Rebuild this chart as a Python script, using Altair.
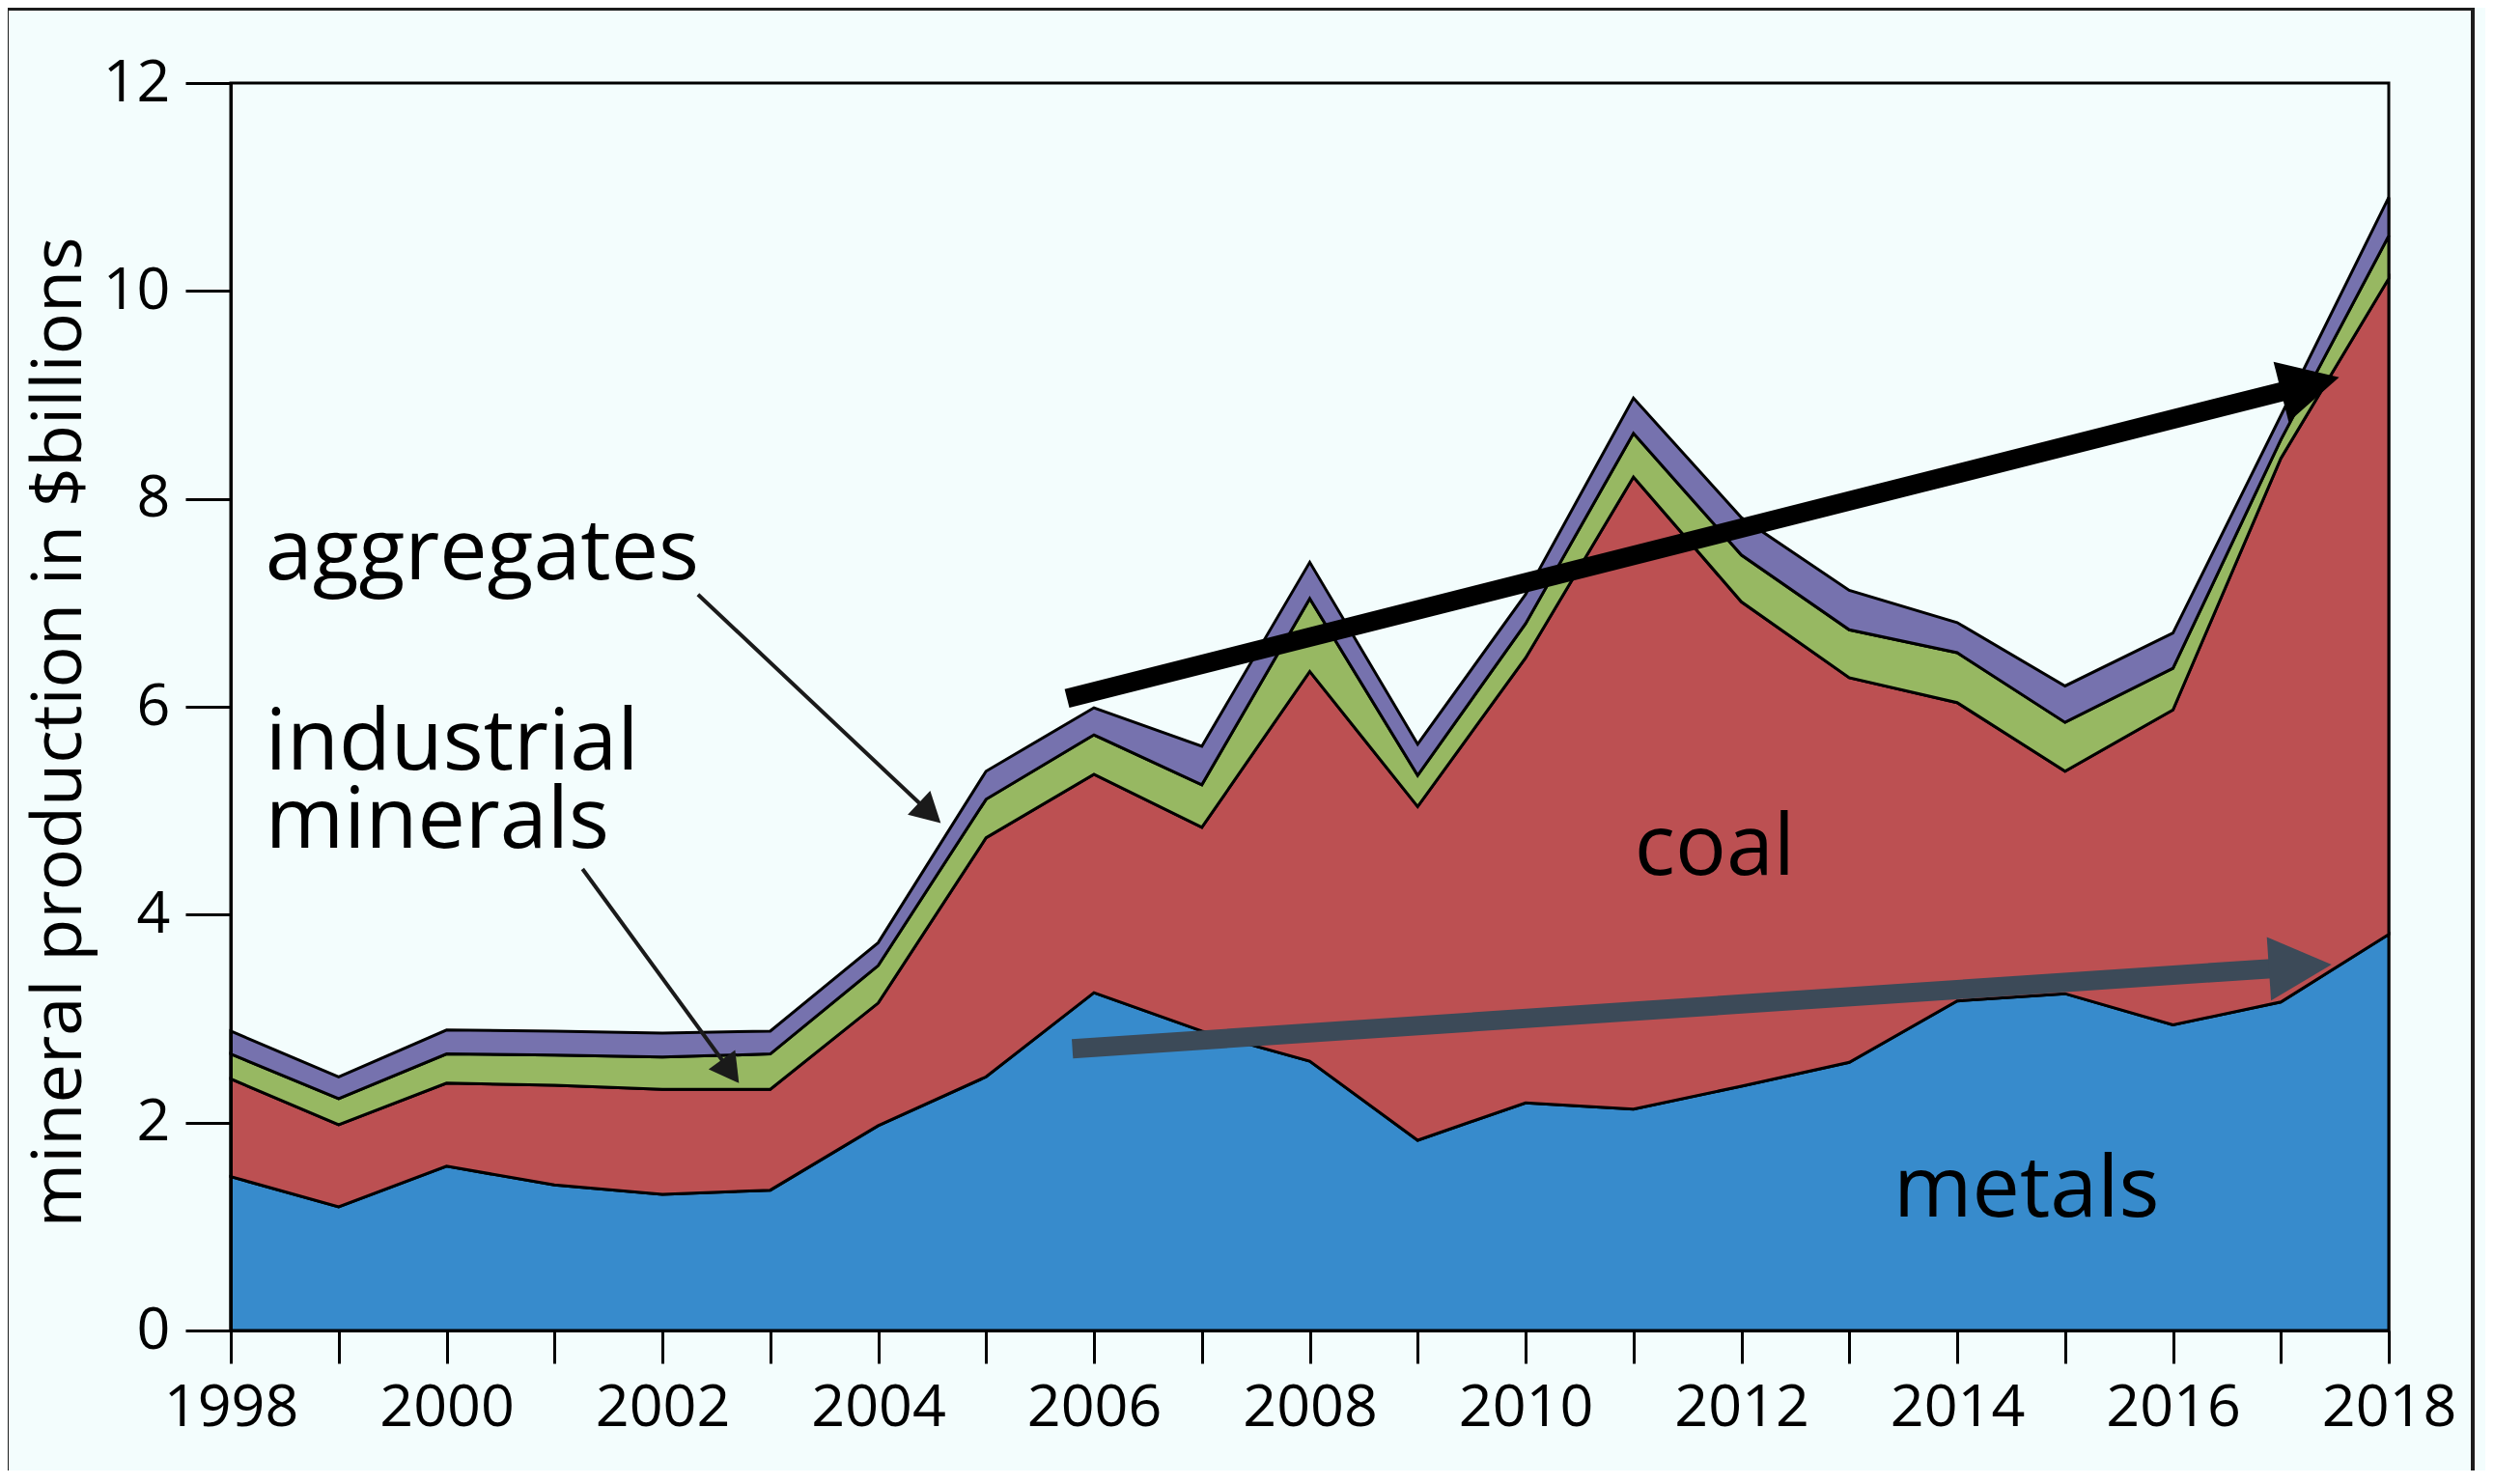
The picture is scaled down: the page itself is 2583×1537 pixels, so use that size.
import math
import altair as alt
import pandas as pd

# ---------------- data ($ billions) ----------------
years = list(range(1998, 2019))
metals = [1.48, 1.19, 1.58, 1.40, 1.31, 1.35, 1.97, 2.44, 3.25, 2.88, 2.59,
          1.83, 2.19, 2.13, 2.35, 2.58, 3.17, 3.24, 2.94, 3.16, 3.81]
coal = [0.94, 0.79, 0.80, 0.96, 1.01, 0.97, 1.18, 2.30, 2.10, 1.96, 3.75,
        3.21, 4.28, 6.08, 4.66, 3.70, 2.87, 2.14, 3.03, 5.23, 6.31]
industrial = [0.24, 0.25, 0.28, 0.29, 0.31, 0.34, 0.36, 0.37, 0.38, 0.41, 0.70,
              0.30, 0.33, 0.42, 0.45, 0.46, 0.48, 0.47, 0.40, 0.18, 0.41]
aggregates = [0.22, 0.21, 0.23, 0.23, 0.23, 0.22, 0.22, 0.27, 0.26, 0.37, 0.35,
              0.30, 0.28, 0.34, 0.36, 0.38, 0.29, 0.35, 0.34, 0.23, 0.37]

series_names = ["metals", "coal", "industrial minerals", "aggregates"]
series_colors = ["#378bcc", "#bc5052", "#97b862", "#7672ae"]

x_ticks = years
y_ticks = [0, 2, 4, 6, 8, 10, 12]

# text labels (year, value); multi-line label uses a line break
label_text = ["aggregates", "industrial\nminerals", "coal", "metals"]
label_x = [1998.32, 1998.32, 2011.01, 2013.41]
label_y = [7.23, 5.40, 4.38, 1.10]

# arrows: start (year, value) -> tip (year, value)
arrow_x0 = [2005.75, 2005.80, 2002.33, 2001.26]
arrow_y0 = [6.08, 2.71, 7.08, 4.44]
arrow_x1 = [2017.54, 2017.47, 2004.58, 2002.71]
arrow_y1 = [9.17, 3.52, 4.88, 2.38]
arrow_color = ["#000000", "#3c4a58", "#1a1a1a", "#1a1a1a"]
arrow_width = [20, 20, 4, 4]
arrow_head_len = [62, 65, 31, 30]
arrow_head_half = [32, 33, 17, 17]

# ---------------- layout ----------------
W, H = 2235, 1292
FONT = "Open Sans"
px_x = W / 20.0
px_y = H / 12.0

# stacked table
rows = []
stack_vals = [metals, coal, industrial, aggregates]
for i, yr in enumerate(years):
    base = 0.0
    for k, name in enumerate(series_names):
        top = base + stack_vals[k][i]
        rows.append({"year": yr, "series": name, "bottom": base, "top": top, "ord": k})
        base = top
df = pd.DataFrame(rows)

xscale = alt.Scale(domain=[1998, 2018], nice=False, zero=False)
yscale = alt.Scale(domain=[0, 12], nice=False, zero=True)

xaxis = alt.Axis(values=x_ticks, format="d",
                 labelExpr="datum.value % 2 == 0 ? datum.label : ''",
                 title=None, grid=False, tickSize=34, tickWidth=3, tickColor="black",
                 domainColor="black", domainWidth=3, labelFont=FONT, labelFontSize=61,
                 labelColor="black", labelPadding=16, labelFlush=False, zindex=1,
                 labelOverlap=False)
yaxis = alt.Axis(values=y_ticks, format="d", title="mineral production in $billions",
                 grid=False, tickSize=47, tickWidth=3, tickColor="black",
                 domainColor="black", domainWidth=3, labelFont=FONT, labelFontSize=61,
                 labelColor="black", labelPadding=16, labelFlush=False, zindex=1,
                 titleFont=FONT, titleFontSize=72, titleFontWeight="normal",
                 titleColor="black", titleAngle=270, titleBaseline="alphabetic",
                 titleAlign="center", titleX=-156, titleY=672)

areas = alt.Chart(df).mark_area(stroke="black", strokeWidth=3, opacity=1,
                                strokeJoin="miter").encode(
    x=alt.X("year:Q", scale=xscale, axis=xaxis),
    y=alt.Y("top:Q", scale=yscale, axis=yaxis),
    y2="bottom:Q",
    color=alt.Color("series:N", scale=alt.Scale(domain=series_names, range=series_colors),
                    legend=None),
    order=alt.Order("ord:Q"),
    detail="series:N",
)

layers = [areas]

# arrows
for i in range(len(arrow_x0)):
    dx = (arrow_x1[i] - arrow_x0[i]) * px_x
    dy = -(arrow_y1[i] - arrow_y0[i]) * px_y
    d = math.hypot(dx, dy)
    ux, uy = dx / d, dy / d
    back = arrow_head_len[i] * 0.9
    bx = arrow_x1[i] - ux * back / px_x
    by = arrow_y1[i] + uy * back / px_y
    ang = math.degrees(math.atan2(dy, dx)) % 360
    shaft = pd.DataFrame([{"x": arrow_x0[i], "y": arrow_y0[i], "x2": bx, "y2": by}])
    head = pd.DataFrame([{"x": arrow_x1[i], "y": arrow_y1[i]}])
    ratio = arrow_head_half[i] / arrow_head_len[i]
    shape = f"M0,0L-1,{-ratio:.4f}L-1,{ratio:.4f}Z"
    size = (2 * arrow_head_len[i]) ** 2
    layers.append(alt.Chart(shaft).mark_rule(color=arrow_color[i], strokeWidth=arrow_width[i],
                                             strokeCap="butt").encode(
        x=alt.X("x:Q", scale=xscale, axis=xaxis),
        y=alt.Y("y:Q", scale=yscale, axis=yaxis),
        x2="x2:Q", y2="y2:Q"))
    layers.append(alt.Chart(head).mark_point(shape=shape, size=size, filled=True, opacity=1,
                                             color=arrow_color[i], strokeWidth=0,
                                             angle=ang).encode(
        x=alt.X("x:Q", scale=xscale, axis=xaxis),
        y=alt.Y("y:Q", scale=yscale, axis=yaxis)))

labels_df = pd.DataFrame({"text": label_text, "x": label_x, "y": label_y})
texts = alt.Chart(labels_df).mark_text(font=FONT, fontSize=88, align="left",
                                       baseline="alphabetic", color="black",
                                       lineBreak="\n", lineHeight=81).encode(
    x=alt.X("x:Q", scale=xscale, axis=xaxis),
    y=alt.Y("y:Q", scale=yscale, axis=yaxis),
    text="text:N")
layers.append(texts)

frame = alt.Chart(pd.DataFrame({"a": [0]})).mark_rect(
    fillOpacity=0, stroke="#1c1c1c", strokeWidth=4).encode(
    x=alt.value(-232), x2=alt.value(2322), y=alt.value(-77), y2=alt.value(1441))
layers.append(frame)

chart = alt.layer(*layers).properties(
    width=W, height=H, background="#f3fdfd",
    padding={"left": 231, "top": 78, "right": 100, "bottom": 145},
    autosize=alt.AutoSizeParams(type="none"),
).configure_view(stroke="black", strokeWidth=3)

chart.save("out.html", embed_options={"renderer": "svg", "actions": False})
